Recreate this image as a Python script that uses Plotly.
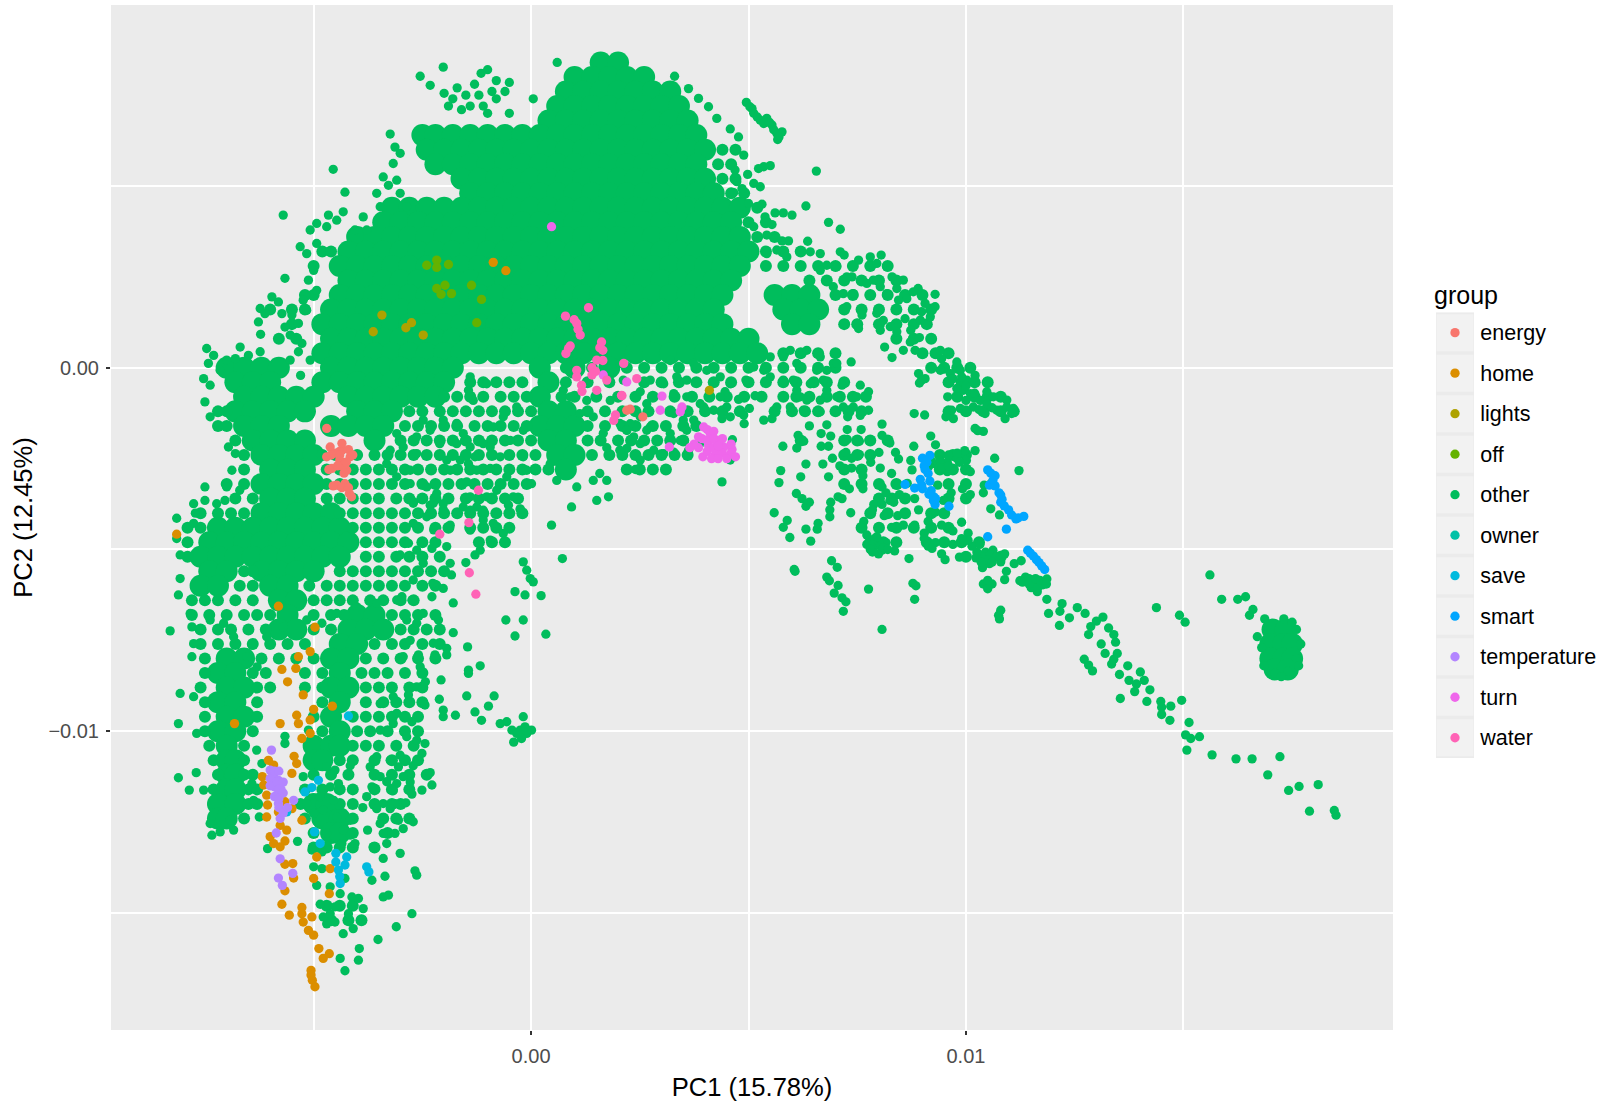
import plotly.graph_objects as go

UNIT = 1e-4
groups = ["energy", "home", "lights", "off", "other", "owner", "save", "smart", "temperature", "turn", "water"]
colors = ["#F8766D", "#DB8E00", "#AEA200", "#64B200", "#00BD5C", "#00C1A7", "#00BADE", "#00A6FF", "#B385FF", "#EF67EB", "#FF63B6"]

# Densely overplotted cloud of "other": row value of PC2, then the PC1 values read along that row
other_dense_y = [84, 80, 76, 72, 68, 64, 60, 56, 52, 48, 44, 40, 36, 32, 28, 24, 20, 16, 12, 8, 4, 0, -4, -8, -12, -16, -20, -24, -28, -32, -36, -40, -44, -48, -52, -56, -60, -64, -68, -72, -76, -80, -84, -88, -92, -96, -100, -104, -108, -112, -116, -120, -124, -128]
other_dense_x = [
 [16, 20],
 [10, 14, 18, 22, 26],
 [8, 12, 16, 20, 24, 28, 32],
 [6, 10, 14, 18, 22, 26, 30, 34],
 [4, 8, 12, 16, 20, 24, 28, 32, 36],
 [-25, -22, -18, -14, -10, -6, -2, 2, 6, 10, 14, 18, 22, 26, 30, 34, 38],
 [-24, -20, -16, -12, -8, -4, 0, 4, 8, 12, 16, 20, 24, 28, 32, 36, 40],
 [-22, -18, -14, -10, -6, -2, 2, 6, 10, 14, 18, 22, 26, 30, 34, 38],
 [-16, -12, -8, -4, 0, 4, 8, 12, 16, 20, 24, 28, 32, 36, 40],
 [-14, -10, -6, -2, 2, 6, 10, 14, 18, 22, 26, 30, 34, 38, 42],
 [-32, -28, -24, -20, -16, -12, -8, -4, 0, 4, 8, 12, 16, 20, 24, 28, 32, 36, 40, 44, 48],
 [-34, -30, -26, -22, -18, -14, -10, -6, -2, 2, 6, 10, 14, 18, 22, 26, 30, 34, 38, 42, 46],
 [-40, -36, -32, -28, -24, -20, -16, -12, -8, -4, 0, 4, 8, 12, 16, 20, 24, 28, 32, 36, 40, 44, 48],
 [-42, -38, -34, -30, -26, -22, -18, -14, -10, -6, -2, 2, 6, 10, 14, 18, 22, 26, 30, 34, 38, 42, 46, 50],
 [-44, -40, -36, -32, -28, -24, -20, -16, -12, -8, -4, 0, 4, 8, 12, 16, 20, 24, 28, 32, 36, 40, 44, 48],
 [-42, -38, -34, -30, -26, -22, -18, -14, -10, -6, -2, 2, 6, 10, 14, 18, 22, 26, 30, 34, 38, 42, 46],
 [-44, -40, -36, -32, -28, -24, -20, -16, -12, -8, -4, 0, 4, 8, 12, 16, 20, 24, 28, 32, 36, 40, 44, 56, 60, 64],
 [-46, -42, -38, -34, -30, -26, -22, -18, -14, -10, -6, -2, 2, 6, 10, 14, 18, 22, 26, 30, 34, 38, 42, 58, 62, 66],
 [-48, -44, -40, -36, -32, -28, -24, -20, -16, -12, -8, -4, 0, 4, 8, 12, 16, 20, 24, 28, 32, 36, 40, 44, 60, 64],
 [-46, -42, -38, -34, -30, -26, -22, -18, -14, -10, -6, -2, 2, 6, 10, 14, 18, 22, 26, 30, 34, 38, 42, 46, 50],
 [-48, -44, -40, -36, -32, -28, -24, -20, -16, -12, -8, -4, 0, 4, 8, 12, 16, 20, 24, 28, 32, 36, 40, 44, 48, 52],
 [-70, -66, -62, -58, -46, -42, -38, -34, -30, -26, -22, -18, 2, 10, 18],
 [-68, -64, -60, -48, -44, -40, -36, -32, -28, -24, -20, 4],
 [-66, -62, -58, -54, -50, -42, -38, -34, -30, -26, -22, 2],
 [-68, -64, -60, -56, -52, -40, -36, -32, 4, 8],
 [-66, -62, -58, -46, -42, -38, -34, 2, 6, 10],
 [-64, -60, -56, -52, -36, 4, 8],
 [-62, -58, -54, -50, 6, 10],
 [-60, -56, -52, 8],
 [-62, -58, -54, -50],
 [-60, -56, -52],
 [-62, -58, -54, -50, -46],
 [-72, -68, -64, -60, -56, -52, -48, -44],
 [-74, -70, -66, -62, -58, -54, -50, -46, -42],
 [-76, -72, -68, -64, -60, -56, -52, -48, -44],
 [-74, -70, -62, -58, -54, -50],
 [-76, -72, -60, -56],
 [-58, -54],
 [-56, -40, -36],
 [-58, -54, -42, -38, -34],
 [-44, -40],
 [-70, -66, -46, -42],
 [-72, -68, -44],
 [-70, -66, -46, -42],
 [-72, -68, -44],
 [-70, -66, -46],
 [-72, -68, -44],
 [-70, -50, -46, -44],
 [-70, -68, -50, -48],
 [-70, -68],
 [-70, -68],
 [-72, -68, -50, -47],
 [-72, -70, -48, -44],
 [-46, -44],
]
# The solid patch at the far right of the plot, same treatment
other_patch = [(170.5,-72),(173.5,-72),(170,-76),(173,-76),(175,-76),(170,-80),(173,-80),(175,-80),(171,-83),(174,-83)]

# Half-filled parts of the "other" cloud: row value of PC2, then PC1 values along that row
other_mid_y = [-4, -8, -12, -16, -20, -24, -28, -32, -36, -40, -44, -48, -52, -56, -60, -64, -68, -72, -76, -80, -84, -88, -92, -96, -100, -104, -108, -112, -116, -120, -124, -128, -132, -148, -152,
               0, -4, -8, -12, -16, -20, -24, -28, 4, 0, -4, -8, -12, 28, 24, 20, 16, 12, 8, 4, 0, -4, -8, -12, -28, -32, -36, -40, -44, -48, -52, -24, -20,
               60, 56, 52, 48, 44, 40, 36, 32, 28, 32, 28, 20, 16, 12, 8, -12, -16, -20, -24, -28, -32, -36]
other_mid_x = [
 [-14, -11, -8, -5, -2],
 [-20, -17, -14, -11, -7, -4, -1],
 [-28, -25, -21, -18, -15, -12, -9, -6, -3, 0],
 [-29, -26, -23, -20, -17, -13, -10, -7, -4, -1],
 [-30, -27, -24, -21, -18, -15, -12, -9, -6, -3, 0],
 [-48, -45, -40, -36, -33, -30, -27, -24, -21, -18, -15, -12, -9, -5, -2, 1],
 [-47, -44, -41, -38, -35, -32, -29, -26, -23, -20, -17, -14, -11, -8, -5, -2, 1, 4],
 [-47, -44, -41, -38, -35, -32, -29, -25, -22, -19, -16, -13, -10, -7, -4, -1],
 [-47, -44, -41, -38, -35, -31, -28, -25, -22, -19, -15, -12, -9, -6, -3],
 [-76, -72, -69, -66, -44, -41, -38, -35, -32, -29, -26, -23, -20, -17, -14, -11, -8, -5, -2],
 [-79, -76, -41, -38, -35, -32, -29, -26, -22, -19, -14, -11, -8, -5],
 [-79, -38, -35, -32, -29, -25, -22, -12, -9, -6],
 [-79, -38, -35, -31, -28, -25, -21],
 [-66, -64, -44, -41, -38, -35, -32, -29, -26, -23, -20],
 [-67, -64, -51, -47, -44, -41, -38, -35, -32, -29, -25, -22],
 [-78, -75, -72, -68, -64, -50, -47, -44, -41, -37, -34, -30, -27],
 [-78, -74, -70, -66, -63, -60, -50, -46, -43, -32, -29, -26, -22],
 [-76, -72, -69, -65, -61, -50, -46, -30, -27, -24, -21],
 [-76, -72, -68, -64, -60, -56, -52, -36, -32, -29, -25, -21],
 [-75, -62, -58, -54, -50, -38, -34, -30, -26, -22],
 [-75, -64, -61, -52, -48, -39, -36, -33, -29, -25],
 [-76, -63, -60, -52, -48, -38, -35, -32, -28, -25],
 [-75, -63, -48, -38, -34, -31, -28, -25],
 [-75, -63, -50, -41, -38, -35, -32, -29, -26],
 [-75, -64, -48, -40, -37, -33, -29, -26],
 [-74, -66, -41, -38, -35, -31, -27],
 [-73, -66, -44, -41, -36, -32, -29, -26],
 [-72, -66, -64, -50, -46, -42, -36, -32, -28, -24],
 [-73, -65, -63, -52, -48, -44, -41, -36, -32, -28],
 [-65, -63, -53, -44, -41, -36, -32, -30],
 [-66, -52, -41, -34, -31, -28],
 [-50, -41, -33],
 [-50, -47, -44, -41, -36],
 [-47, -44, -41],
 [-46, -42, -39],
 [8, 14, 22, 26, 30, 34, 38, 42, 46, 50, 54],
 [8, 13, 18, 26, 30, 34, 38, 42, 46, 50, 54],
 [7, 10, 15, 20, 24, 28, 33, 37, 41, 45, 49, 53],
 [13, 17, 21, 24, 27, 32, 36, 40, 44, 48],
 [13, 17, 21, 24, 28, 31, 35, 38],
 [13, 16, 20, 23, 26, 29, 32, 35],
 [14, 18, 21, 24, 27, 30, 33, 36],
 [22, 25, 28, 31],
 [58, 62, 66, 70],
 [58, 62, 66, 70],
 [58, 61, 65, 68, 72],
 [58, 61, 64, 68, 71, 74, 77],
 [56, 60, 63, 66, 70, 73, 76],
 [66, 70, 74, 78, 82],
 [64, 68, 72, 76, 80, 84],
 [70, 74, 78, 82, 86, 90],
 [72, 76, 80, 84, 88, 92],
 [72, 75, 80, 84, 88, 91],
 [84, 88, 92],
 [90, 93, 96],
 [92, 95, 98, 101],
 [96, 99, 102, 105],
 [98, 102, 105, 108],
 [96, 100, 104, 108, 111],
 [72, 76, 94, 97, 100],
 [72, 76, 80, 84, 96, 100],
 [80, 83, 86, 96, 100],
 [78, 82, 86, 92, 95],
 [76, 80, 84, 88, 92, 96],
 [78, 81, 84, 91, 95, 99, 103],
 [100, 104, 108],
 [72, 75, 78, 94, 97, 100],
 [62, 72, 75, 78, 82],
 [44, 47],
 [43, 46],
 [44, 47],
 [46, 49],
 [52],
 [50, 54],
 [52, 56],
 [54, 58, 62],
 [54, 58, 62],
 [-48, -46],
 [-50],
 [-50, -52],
 [-60, -55, -52],
 [-55],
 [-58, -54],
 [-72, -70],
 [-72, -70],
 [-68],
 [-66],
 [-66],
 [-70, -66],
 [-68, -64],
]

# Separately visible "other" points
other_pts = [
 (-45.5,54.6),(-42.8,48.3),(-57,42),(-56.6,24.6),(-32.4,64.3),(-31.3,60.7),(-25.5,80.2),(-20.2,82.7),(-23.2,77.7),
 (-20,75.5),(-17,77),(-13,78),(-10,82),(-11.5,81),(-8,79),(-5,78.5),(-8,74),(-16,71),(-14,72),(-11,72),(0.5,74),(6,84),(-18,74),(-15,75),(-12,75),(-9,76),(-6,76),(-19,72),(-10,70),(-5,70),
 (-34,52.5),(-32.8,50.2),(-35.5,48),(-31.7,56.2),(-30.1,59),(-30.9,51.6),(-30.1,48),(-28.6,44.3),(-38.6,41.5),(-43.2,42.9),(-46.6,42),(-49.3,39.7),(-50.8,37.9),(-47,38.8),(-44.7,40.6),(-40.5,37.9),(-37.8,37.9),(-34.7,44.3),
 (-53.1,33.3),(-49.3,34.2),(-51.6,31.4),(-50,26.8),(-51.2,24.1),(-49.3,21.3),(-52.4,18.6),(-51.6,15.8),(-59.6,19.5),(-58.1,18.1),(-62.3,16.3),(-61.2,14.9),(-62.7,12.6),(-57.3,14.9),(-55,14.5),(-56.6,11.2),(-53.5,12.2),(-55.4,9),(-62.2,9.2),(-52.7,6.7),(-53.5,4.4),(-55.4,2.1),(-50.8,2.1),(-53,-2.1),
 (-66.9,5.7),(-65,3.4),(-62.3,4.4),(-74.6,5.3),(-73,3.4),(-74.2,1.2),(-70,2.1),(-68,2.5),(-75.3,-3),(-73.8,-4.8),(-75,-9.4),(-73.8,-13.5),(-71.5,-0.7),(-69.6,-21.8),(-68,-23.6),(-68.8,-28.2),(-75,-32.8),(-70,-32.8),(-67,-33.7),(-77.6,-37.4),(-75,-36.5),(-72.3,-37.4),(-70.4,-36.5),
 (-14,-2.5),(-14.4,-6.2),(-13.3,-9),(-10.2,-4.4),(-11,-8),(-6.4,-13.5),(-8.7,-16.3),(-3.3,-10.8),(-1.8,-17.2),(-4.8,-20),(-1.8,-24.5),(-7.1,-24.5),(-11,-20.9),(-9.4,-21.8),(-14,-21.8),(-17.1,-20.9),(-16.3,-25.4),(-12.9,-24.5),(-14.4,-26.4),(-19.4,-25.4),(-18.6,-28.2),(-21,-20.9),(-20.2,-14.4),(-17.1,-15.3),(-15.6,-18.1),(-23.2,-17.2),(-24.8,-14.4),(-26.3,-19),(-26.3,-23.6),(-27.8,-28.2),(-29.4,-21.8),(-32.4,-22.7),(-30.9,-18.1),(-33.2,-26.4),(-30.9,-30),(-27.8,-31.9),(-24,-32.8),(-21.7,-34.6),(-20.2,-37.4),(-14.8,-31.4),(-12.5,-28.2),(-9.4,-27.7),(-5.6,-30),(-7.9,-33.7),(-4.1,-35.5),(-10.2,-35.5),(-14,-35.5),(-15.6,-38.3),(-12.5,-38.3),(-2.5,-38.8),(-1,-28.2),(0.1,-31.9),(4.4,-26.4),(5.9,-31),(10.5,-32.8),(15.8,-29.1),(14.3,-31),(17.4,-31),(15.1,-36.5),(17.8,-35.5),(9.3,-38.3),(-27,-36.9),(-23.2,-37.8),
 (-81.5,-41.4),(-81.5,-47),(-80.7,-51.5),(-80.7,-58),(-81.1,-62.5),(-78.4,-67.6),(-78,-71.3),(-83,-72.4),(-77.6,-75.9),(-78,-79.5),(-80.7,-89.6),(-77.6,-90.5),(-81.1,-97.9),(-76.9,-100.6),(-81.1,-112.8),(-77,-111.4),(-78.6,-116.2),(-75.3,-116.2),(-73.4,-128.6),(-71.5,-127.7),(-68.4,-127.2),(-73.8,-125.4),(-69.2,-124.5),(-77.2,-40),(-77.6,-42.8),
 (-64.2,-76.3),(-73.8,-69.4),(-70.7,-70.3),(-68.4,-74),(-65.4,-79.5),(-63,-82.3),(-60.8,-74),(-57,-71.3),(-51.6,-69.4),(-48.1,-70.3),(-44.7,-67.6),(-40.1,-65.8),(-35.5,-64.8),(-30.9,-63.9),(-27.4,-63.9),(-24.8,-67.6),(-26.3,-70.3),(-28.6,-69.4),(-27.8,-75),(-29.4,-79.5),(-25.5,-82.3),(-25.9,-79),(-26.3,-87.8),(-24.4,-92.8),(-28.2,-90),(-27.4,-97.4),(-31.7,-90.5),(-34.7,-92.4),(-30.9,-95.1),(-34.7,-99.7),(-31.7,-97.9),(-28.6,-101.5),(-26.3,-102.5),(-24.4,-103.4),(-25.1,-106.1),(-30.1,-106.6),(-32.4,-108),(-35.5,-107),(-37,-109.8),(-27.1,-109.5),(-30.5,-109.8),(-29.4,-112.5),(-34.7,-112.5),(-33.2,-113.9),(-41.6,-109.5),(-27.8,-114),(-23.2,-111.4),(-22.8,-114.8),(-25.1,-116.2),(-27.4,-117.3),(-30.9,-114.4),(-31.7,-116.4),(-36.6,-115.3),(-37.8,-118),(-34,-119.9),(-31.3,-119.9),(-35.5,-121.3),(-32.4,-121.3),(-28.8,-119.7),(-38.7,-121),(-27.1,-124.9),(-30.5,-124.5),(-34.7,-125.4),(-29.4,-126.8),(-31.3,-128.1),(-34,-128.1),(-37.6,-127.2),(-33.2,-130.9),(-36.3,-131.8),(-30.1,-133.6),(-34,-135),(-33.6,-139.9),(-26.7,-138.4),(-26.3,-139.6),(-34,-145.6),(-32.8,-145.1),(-27.4,-150.2),(-31,-153.8),(-35.2,-157.3),(-39.5,-159.8),(-39.7,-163),(-43.9,-162.5),(-42.8,-165.9),(-43.2,-155.7),(-40.9,-154.3),(-38.9,-152),(-38.6,-148.8),(-41.2,-145.6),(-39.7,-146),(-42,-150.2),(-45.1,-148.3),(-48.5,-147.6),(-47.8,-151.1),(-45.1,-152.5),(-46.2,-150.2),(-47,-153),(-43.9,-144.7),(-46.2,-142.8),(-49.3,-142.4),(-42.8,-140.5),(-36.6,-141),(-50,-137.3),(-48.1,-137.8),(-50.4,-132.7),(-48.1,-133.2),(-53.7,-130.3),(-60.6,-132.3),(-62.5,-123.6),(-51.2,-99.7),(-56.6,-101.4),(-56.6,-103.4),(-63.1,-105.2),(-61.9,-108.9),(-64.2,-114.4),(-63.8,-119),(-41.6,-128.6),(-40.5,-130.9),(-43.5,-130.9),(-43.2,-127.2),(-41.6,-124.5),(-47,-128.1),(-44.7,-123.6),(-47.8,-121.7),(-50,-122.6),(-45.4,-119),(-48.5,-118),(-51.6,-119.9),(-46.2,-115.3),(-44.3,-114.4),(-45.1,-110.7),(-47,-109.8),(-52.4,-112.5),
 (-21.3,-69.4),(-17.9,-72.9),(-17.9,-64.7),(-22.8,-63),(-20.2,-60.7),(-22.6,-59.3),(-18.3,-57),(-15,-53.6),(-18.6,-53.8),(-22.8,-49.7),(-19.4,-49.2),(-18.6,-43.3),(-22.4,-44.6),(-24,-41),(-27.1,-42.8),(-30.1,-51.5),(-28.2,-48.3),(-24.8,-53.8),(-26.3,-50.2),(-27.1,-58.4),(-29.7,-63),(-22.5,-75.8),(-19.4,-77.2),(-22.1,-79),(-19.4,-79),(-14.6,-76.8),(-11.7,-82),(-14.4,-84.1),(-14.4,-83.2),(-24.3,-86.4),(-20.7,-85.9),(-21.1,-91.2),(-14.8,-90.3),(-8.5,-90.3),(-9.8,-93.1),(-12.9,-94.7),(-17.4,-95.6),(-20.2,-96),(-11.4,-97),(-20.2,-94.2),
 (4.7,-43.3),(7.2,-52.5),(-1.8,-53.4),(-1,-55.7),(-0.2,-58),(0.5,-58.9),(-3.7,-61.6),(-1.4,-62.5),(2.3,-62.7),(-5.8,-69.4),(-1.8,-69.4),(-3.7,-73.8),(3.4,-73.3),
 (-7.1,-97.9),(-5.6,-97.4),(-4.4,-99.7),(-4,-103),(-1.8,-96),(-2.5,-99.7),(-1,-100.6),(0.1,-99.7),(-2.2,-102),(-3.3,-100.6),(-1.4,-98.8),
 (-11,-39.2),(-14,-39.2),(-7.9,-40),(-8.7,-42.8),(-6.4,-45.6),(-11,-41.9),(-14,-44.7),(-9.4,-47.4),(-11.7,-50.2),(-12.9,-51.5),(-2.5,-39),(-5.2,-37.8),(-22.5,-37.3),(-20.2,-39),(-27.1,-37.3),
 (49.5,73),(51.2,70),(52.7,68.1),(54.2,68.6),(55.4,66.8),(56.5,64.5),(57.7,64.9),(56.7,62.8),(50.8,71.3),(50.3,71.8),(52,69),(53.5,67.2),(54.8,67.5),(55.8,65.5),(57,63.5),
 (36.2,76.8),(38.5,74.1),(40.8,71.8),(42.7,68.6),(33,80.2),
 (45.8,65.7),(47.7,63.5),(48.9,58.5),(46.9,54.4),(49.8,53.2),(52.3,54.8),(55,55.6),(53.5,55.3),(65.6,54.1),(47.3,51.2),(51.2,50.7),(52.7,49.8),(46.6,48.2),(48.5,49.3),(53.1,45),(50,45.2),(63.2,44.5),(56.1,42.6),(58,42.6),(60,42),(53.8,41.5),(55.4,39.4),(68.4,40),(71.1,38.1),(51.2,38.8),(54.2,36.5),(57.7,34.9),(59.2,34.9),(63.6,34.8),(64.2,31.9),(66.5,31.4),(71.1,31.9),(72,31),(54.2,31.4),(56.5,32.4),(58.8,30.5),(75.3,29.6),(78,30.5),(80.5,31),(79.5,28.7),(81.8,27.8),(83,25),(85.6,24.1),(89,21.8),(87.9,20.9),(92.9,20.2),(78.7,24.1),(77.2,23.2),(80.3,22.3),(81.8,20.4),(84.1,21.8),(86.4,19),(84.5,18.6),(70.3,27.8),(68,28.2),(72.6,25),(73.8,25),(66.5,26.8),(69.5,22.3),(71.8,20.4),(74.1,20.4),(76.1,14.5),(72.6,16.8),(72.2,12.2),(74.9,12.2),(75.3,10.8),(79.5,15),(81,13),(80.3,10.3),(82.6,11.3),(84.1,9.9),(86,13.5),(89.5,13.1),(90.6,17.7),(92.9,16.8),(91.8,14),(89.8,15.4),(87.3,10.3),
 (87.2,7.1),(89.3,8.3),(92.1,7.8),(85.6,4.8),(88.3,4.8),(90.2,3.9),(94.1,4.8),(96,3.9),(94.4,2.5),(81.3,5.7),(83,2.8),(97.9,1.6),(94.1,-0.7),(96.4,-1.6),(98.7,-0.7),(100.2,-3.4),(102.1,-2.1),(99.4,-6.2),(97.9,-5.7),(101,-7.1),(104.8,-6.6),(106.3,-8),(103.3,-9),(104.8,-9.9),(109.4,-8.9),(110.9,-11.2),(109.4,-10.8),(110.5,-12.6),(109,-14),(107.1,-11.7),(101.7,-10.8),(98.7,-11.2),(96.7,-11.7),(100.2,-12.1),(104.4,-12.6),(97.1,-14),(95.4,-13.5),(95.8,-8),(89.1,-1.6),(89.8,-3.4),(90.6,-3),(89.3,-4.2),(88.1,-12.6),(90.5,-13),(102.1,-16.7),(104,-17.5),(100,-9),(102,-7),(98,-8),(106,-11),(103,-11.5),(100,-5),(97,-3),(99,-2.5),
 (58,3),(59.6,4.8),(61.1,1.2),(63.4,4.8),(66.5,3),(69.5,1.2),(68,-0.7),(65.7,-0.7),(67.2,-3.4),(64.2,-4.4),(61.1,-6.2),(58,-3.4),(58,-8),(60.3,-3.4),(59.6,-10.8),(61.9,-8),(63.4,-8.9),(62.6,-11.7),(68,-6.2),(70.3,-8),(71.8,-10.8),(74.1,-10.8),(75.7,-4.8),(77.6,-6.6),(74.9,-8),(77.6,-11.7),(75.7,-13.1),(72.8,-13.5),(66.5,-8.9),(66.5,-12.1),(71.5,-4.8),(73.6,1.6),(70.3,1.2),
 (55,-2.5),(56.5,-10.8),(55.4,-14),(53.5,-14.4),(51.5,-7.7),(50.2,-11.2),(48.9,-13),(49,-15.4),(47.7,-8.7),(44.6,-6.6),(43.5,-8),(45,-10.8),(45.8,-13.5),(43.9,-14),(49.4,-3.4),(53.5,-0.7),(55,3),(51.2,0.2),
 (32,2),(37.4,1.2),(40.4,-0.7),(43.5,-2.5),(45.8,-4.4),(35.8,-3.4),(33.5,-2.5),(30.5,-4.4),(27.4,-3.4),(25.1,-6.6),(35.8,-8),(38.9,-9.9),(42,-11.7),(32.8,-7.1),(26.6,-9.9),(25.1,-13.5),(22.8,-15.4),(27.4,-16.3),(32,-18.1),(34.3,-20),(36.2,-22.7),(28.2,-22.7),(30.5,-23.6),(32.8,-23.2),(22,-22.2),(25.1,-20.9),(25.1,-25.4),(24,-28),(38.7,-21.1),(46.3,-19.8),(45.8,-25.4),(43.9,-31.4),(26.6,-17.2),(23.6,-19),(35,-14.4),(32.8,-12.6),(37.4,-14.4),(39.7,-10.8),(35.8,-17.2),(22,-17.2),
 (7.4,-6.2),(12.8,-9),(18.2,-9),(14.3,-13.5),(10.5,1.2),(20.4,1.2),(21.2,-3.4),(20.4,-15.3),(16.6,-18),(20.4,-22.7),(9,-8),(11.2,-12.6),(17.4,-22),(22,-17.2),
 (57.9,-21.6),(61.1,-22.1),(61.4,-18.6),(62.7,-20.2),(63.2,-26.5),(57.4,-28.3),(57,-31.6),(62,-30),(66.7,-18.1),(68.9,-18.8),(68,-15.7),(66.7,-21.6),(68.4,-21.6),(64,-16),(72.7,-17),(75.9,-17),(72.7,-19.7),(75.5,-20.2),(77.7,-19.9),(80.7,-15.5),(80.7,-18.6),(82.5,-20.7),(83.8,-23.3),(84.5,-25.1),(88,-21.6),(80,-23.3),
 (73.7,-24.9),(75.5,-23.9),(72.4,-23.3),(71,-27),(73.7,-27.6),(67.1,-26.5),(69.3,-24.9),(68.4,-30),(76.3,-29.7),(78.1,-26),(80.3,-27.6),(82.9,-29.1),(87.3,-25.5),(87.6,-28.1),(73.2,-33.3),(76.3,-33.3),
 (61,-34.6),(62.3,-36),(64,-37),(63.2,-38.1),(70.6,-35.5),(71.5,-36),(68.9,-37),(68.7,-39.1),(73.5,-39.9),(68.7,-41),(55.9,-39.9),(58.9,-42),(58,-43.9),(59.5,-46.7),(63.2,-44.4),(64.3,-47.7),(66,-42.8),(65.8,-44.4),
 (80.7,-32.8),(81.6,-34.4),(78.8,-37.6),(80.7,-37.6),(82.5,-36.5),(81.2,-40.7),(78.5,-39.1),(84.3,-32.3),(84.7,-34.9),(83.4,-37),(84.3,-40.7),(76.5,-42.3),(75.9,-43.9),(79.9,-43.9),(82.9,-43.9),(77.2,-46),(77.2,-48.6),(79,-49.1),(81.6,-48.1),(79.9,-51.2),(78.5,-50.7),(83.6,-50.4),(80.7,-50.2),(86.9,-52.5),(85.6,-43.3),(88.2,-43.3),(90.4,-45.5),(91.3,-49.1),(94.4,-51.2),(95.2,-52.8),(98.5,-52.1),(93,-48.1),(97,-44.9),(97,-48.6),(99,-42.5),(100.5,-45.5),(101.4,-49.1),(103.2,-48.6),(104.5,-50.7),(102.3,-52.3),(106.2,-50.2),(105.4,-53.9),(103.8,-55),(108.9,-51.2),(108,-53.4),(111.1,-53.9),(112.7,-53.1),(109.3,-56),(108.9,-58.3),(104.9,-59.7),(113.7,-57.6),(115.5,-59.1),(117.7,-59.7),(112.4,-58.6),(118.6,-58.1),(116.4,-61.6),(118.6,-63.7),(119,-67.6),(121.5,-70.9),(122.1,-64.9),(121.6,-67),(123.8,-68.8),(125.6,-66),(127.4,-67.6),(131.5,-68.6),(130,-69.7),(128.7,-71.2),(128.2,-73.4),(132.8,-71.6),(134,-73.4),(134.4,-75.5),(131.1,-76),(132,-78.6),(134.8,-78.6),(134,-80.2),(133.5,-81.5),(127.2,-80.2),(128.2,-81.8),(129.1,-83.4),(137.2,-82),(135.3,-84.4),(137.5,-86),(140.1,-83.7),(139.2,-87),(138.8,-89.1),(141,-86),(142.3,-88.6),(141.6,-91.8),(135.5,-91),(144.8,-91.8),(147.1,-93.1),(145,-93.4),(145,-95.4),(146.9,-97),(149.6,-91.5),(151.3,-97.6),(150.5,-101),(151.7,-102),(153.7,-101.5),(150.8,-105.2),(156.6,-106.5),(162.1,-107.6),(165.8,-107.6),(172.2,-107),(169.4,-112),(174.2,-116.3),(176.6,-115.2),(181,-114.7),(179,-122),(184.7,-121.8),(185.1,-123.1),
 (156.1,-57),(158.8,-63.7),(162.5,-63.7),(164.3,-63),(143.8,-66),(149.1,-68.1),(150.4,-70),(166,-66.5),(165.2,-68.1),
 (168.7,-69.1),(173.1,-69.1),(176,-72),(167,-74),(168,-77),(177,-76),(176,-80),(168.5,-82),(171,-84),(174,-83.5),(176.5,-82),(172.5,-85),(175,-70),
 (107.5,-68.1),(107.7,-69.1),(108,-66.7),(60.5,-55.5),(60.7,-56),(69.1,-53.1),(70.4,-54.9),(68,-57.6),(68.6,-58.6),(70.6,-59.9),(69.7,-62),(71.5,-63.3),(72.4,-64.4),(71.8,-67),(77.6,-60.9),(80.7,-72),(87.8,-59.3),(88.5,-60),(88.2,-63.7),
 (93,-26.5),(95.7,-26),(97.9,-24.9),(99.7,-22.8),(100.1,-25.5),(95.7,-28.6),(97,-28.1),(102.1,-22.8),(106.6,-24.9),(112.2,-28.3),(101,-28.6),(91.9,-18.8),(93,-21.2),(102.7,-17.3),(86.5,-31.8),(93.5,-32.3),(96.6,-34.4),(99.2,-33.3),(101,-34.9),(94.8,-36.5),(93,-39.7),(91.3,-42.3),(89.1,-39.1),(88.2,-36),(104.2,-32.3),(104,-34.4),(105.7,-38.8),(107.7,-40.5),(105.8,-31.8),(94.4,-43.3),(90.4,-47),(92.2,-49.7),
 (94,-25.5),(96,-24),(98,-23.5),(94.5,-27.5),(96,-27),(98.5,-26),(92,-25.6),(91.5,-27),(104,-59.5),(106,-59.5),(105,-58.5),(105,-60.8),(113,-59),(114.5,-58),(115,-60.5),(116.5,-60.5),(117,-58.5),(118.5,-59.5),(114.5,-59.5),(116,-58),(104,-52),(105.5,-51.5),(105,-52.8),(103.5,-53.5),(107,-52),(106,-53.5),(102.5,-50.7),(100.5,-47.5),(99,-47),(78,-48),(80,-48),(79,-47),(81,-49.5),(78,-50),(82,-50),(79.5,-46.5),
]

energy_pts = [(-46.2,-21.8),(-43.5,-22.7),(-41.6,-24.5),(-44,-25.4),(-45.8,-27.7),(-42.4,-28.2),(-44.7,-32.3),(-42.8,-31.9),(-41.8,-34.6),(-47,-16.7),(22,-11.7),(22.8,-11.4),(25.7,-13.5),(-44,-23),(-43.5,-27),(-47,-24.5),(-45,-23.5),(-43.5,-20.8),(-42,-22.5),(-41,-24),(-42.5,-26),(-44.5,-27),(-46.5,-28),(-43,-29),(-46,-24),(-44,-24),(-45.5,-32.5),(-43.5,-33),(-42,-33),(-41.3,-35.5)]
home_pts = [(-8.7,29),(-5.8,26.7),(-81.5,-45.8),(-58.1,-65.6),(-49.7,-71.4),(-50.8,-78.1),(-53.5,-79.5),(-57.3,-83),(-54.1,-82.7),(-56,-86.4),(-52.4,-90),(-45.7,-93.1),(-50,-94),(-53.9,-95.6),(-50.8,-96.9),(-53.5,-97.9),(-57.7,-97.9),(-68.2,-97.9),(-52.7,-102),(-50.8,-100.6),(-54.5,-106.9),(-53.9,-108.9),(-55,-111.6),(-60.4,-108),(-59.2,-109.3),(-61.8,-112.5),(-61.5,-114.8),(-60.8,-117.6),(-60.6,-120.3),(-60.8,-123.6),(-58.1,-122.2),(-56.6,-119.4),(-55,-121.3),(-52.7,-124.5),(-57.7,-125.9),(-56.2,-127.2),(-60,-129),(-59.2,-130.9),(-56.6,-130.2),(-57.7,-131.8),(-56.6,-136.6),(-54.8,-136.4),(-54.6,-140.4),(-56.6,-143.9),(-57.3,-147.6),(-52.7,-148.5),(-52.4,-152.5),(-55.6,-150.6),(-50.4,-151.1),(-51.2,-154.8),(-50,-156.1),(-48.8,-159.8),(-47.8,-162.5),(-46.4,-161.2),(-50.6,-165.8),(-50.3,-168.5),(-49.7,-170.3),(-50,-140.5),(-46.2,-137.8),(-49.3,-134.6),(-46.4,-144.7),(-52.7,-150.2),(-50.6,-167.1)]
lights_pts = [(-34.3,14.5),(-27.5,12.4),(-28.8,11),(-36.3,9.9),(-24.8,9),(41,-6.2)]
off_pts = [(-21.7,29.6),(-24,28.2),(-21.7,27.6),(-19,28.4),(-19.8,22.7),(-21.7,21.8),(-20.7,20.2),(-18.3,20.4),(-13.7,22.7),(-11.4,18.8),(-12.5,12.4)]
owner_pts = [(-2.9,53.5)]
save_pts = [(-48.9,-113.5),(-50.4,-115.5),(-52,-116.7),(-42,-95.8),(-49.8,-127.7),(-48.5,-130.9),(-44.9,-133.6),(-42.4,-134.6),(-42.8,-136.8),(-44.3,-138.2),(-37.8,-137.3),(-37.3,-138.7),(-43.9,-141.9),(-56.2,-122.2),(-44.9,-136),(-44,-140)]
smart_pts = [(90,-24.9),(91.7,-24.1),(90.4,-27),(91.3,-29.1),(89.5,-30.7),(91.7,-31.2),(90,-33.3),(86,-32.1),(88.2,-33.1),(92.6,-35.5),(92.9,-37.6),(105,-28.1),(106.7,-29.7),(105.4,-32.3),(107.6,-34.4),(108,-37),(109.8,-39.1),(111.5,-41.6),(113.3,-40.9),(109.3,-44.4),(105,-46.5),(96.1,-38.1),(114.2,-50.2),(115.5,-51.8),(116.8,-53.6),(118.1,-55.5),(105.7,-29),(106.2,-31),(106.7,-32.5),(108,-35),(108.3,-36.2),(108.8,-38),(110.5,-40.5),(112,-41.3),(91,-26),(90.6,-28),(92.5,-36.5),(93,-36),(92,-33.8),(91.5,-34.8),(114.8,-51),(116.2,-52.8),(117.4,-54.5),(89.8,-32.3)]
temperature_pts = [(-59.7,-105.2),(-59.2,-112.5),(-60,-110.7),(-58.9,-115.3),(-58.1,-113.5),(-58.5,-117.6),(-58.1,-119.9),(-57.7,-124),(-58.6,-128),(-57.7,-135.1),(-54.8,-139.1),(-58.1,-140.4),(-57.2,-142.4),(-54.6,-119),(-59.5,-115),(-57.5,-116),(-60,-113),(-59,-111),(-58,-111),(-60,-115),(-58.5,-114),(-58,-116),(-59,-118),(-58,-118.5),(-57,-114),(-57,-117),(-58,-121),(-57,-122.5),(-56,-121)]
turn_pts = [(39.7,-16.3),(41.2,-18.1),(39.3,-19.5),(42.7,-20),(44.3,-21.8),(46.2,-22.5),(42.3,-24),(39.5,-24.5),(31.8,-21.8),(30.1,-7.8),(29.7,-11.7),(34.7,-10.8),(34.3,-12.1),(42.7,-22.7),(40.8,-21.3),(22,-3.9),(16.6,-2),(4.7,38.8),(38.5,-19),(38.5,-22),(40.5,-17),(40.5,-20),(40.5,-23),(42,-17.5),(42,-19.5),(42,-22),(44,-19.5),(44,-23.5),(46,-21),(46,-23.5),(37.5,-21),(41.5,-25),(43,-25),(45,-25),(47,-24.5),(43,-21.5),(36.5,-22)]
water_pts = [(13.2,16.5),(7.9,14.2),(10.5,12.2),(8.6,5.3),(16.2,7.1),(10.5,-0.7),(15.1,2.1),(17.4,-3.4),(11.6,-4.8),(15.1,-6.2),(14,-2),(20.8,-7.6),(19.4,-13),(21.3,1.2),(24.3,-3),(20.9,-7.7),(-21,-45.8),(-14.3,-42.6),(-14.2,-56.4),(-12.7,-62.3),(-12.1,-33.7),(9,6),(8,3.9),(10.8,10.6),(11.3,9),(9.9,13.2),(16.5,4.8),(15.8,5.5),(14,0),(14.8,-1),(16.5,2),(10.5,-2.5),(11.7,-6.5),(19,-14.5)]

W, H = 1610, 1102
POINT = 9.3
MID = 12
DENSE = 22
TEXT = "Liberation Sans, Arial, sans-serif"

def scatter(pts, name, color, size=POINT):
    return go.Scatter(x=[p[0] * UNIT for p in pts], y=[p[1] * UNIT for p in pts], mode="markers", name=name,
                      showlegend=False, hoverinfo="name+x+y", cliponaxis=True,
                      marker=dict(color=color, size=size, line=dict(width=0)))

fig = go.Figure()
dense = [(x, y) for y, row in zip(other_dense_y, other_dense_x) for x in row] + other_patch
mid = [(x, y) for y, row in zip(other_mid_y, other_mid_x) for x in row]
col = dict(zip(groups, colors))
fig.add_trace(scatter(owner_pts, "owner", col["owner"]))
fig.add_trace(scatter(dense, "other", col["other"], DENSE))
fig.add_trace(scatter(mid, "other", col["other"], MID))
fig.add_trace(scatter(other_pts, "other", col["other"]))
for name, pts in [("energy", energy_pts), ("home", home_pts), ("lights", lights_pts), ("off", off_pts), ("save", save_pts),
                  ("smart", smart_pts), ("temperature", temperature_pts), ("turn", turn_pts), ("water", water_pts)]:
    fig.add_trace(scatter(pts, name, col[name]))

# Legend keys as a small category axis, so each swatch comes from the group list
key_x = [0] * len(groups)
fig.add_trace(go.Scatter(x=key_x, y=groups, xaxis="x2", yaxis="y2", mode="markers", showlegend=False, hoverinfo="skip", cliponaxis=False,
                         marker=dict(symbol="square", size=37, color="#F2F2F2", line=dict(width=0))))
fig.add_trace(go.Scatter(x=key_x, y=groups, xaxis="x2", yaxis="y2", mode="markers", showlegend=False, hoverinfo="skip", cliponaxis=False,
                         marker=dict(size=POINT, color=colors, line=dict(width=0))))

fig.update_layout(
    width=W, height=H, margin=dict(l=0, r=0, t=0, b=0), paper_bgcolor="white", plot_bgcolor="#EBEBEB",
    font=dict(family=TEXT, color="#000000"),
    xaxis=dict(domain=[111 / W, 1393 / W], range=[-0.00966, 0.01982], tick0=0, dtick=0.01, tickformat=".2f", zeroline=False,
               showgrid=True, gridcolor="white", gridwidth=2, ticks="outside", ticklen=4, tickwidth=1.5, tickcolor="#333333",
               tickfont=dict(size=20, color="#4D4D4D"), showline=False, anchor="y", ticklabelstandoff=4,
               minor=dict(dtick=0.005, tick0=0, showgrid=True, gridcolor="white", gridwidth=1.5, ticks=""),
               title=dict(text="PC1 (15.78%)", font=dict(size=25.6, color="#000000"), standoff=12)),
    yaxis=dict(domain=[1 - 1030 / H, 1 - 5 / H], range=[-0.01822, 0.00998], tick0=0, dtick=0.01, tickformat=".2f", zeroline=False,
               showgrid=True, gridcolor="white", gridwidth=2, ticks="outside", ticklen=4, tickwidth=1.5, tickcolor="#333333",
               tickfont=dict(size=20, color="#4D4D4D"), showline=False, anchor="x", ticklabelstandoff=3,
               minor=dict(dtick=0.005, tick0=0, showgrid=True, gridcolor="white", gridwidth=1.5, ticks=""),
               title=dict(text="PC2 (12.45%)", font=dict(size=25.6, color="#000000"), standoff=8)),
    xaxis2=dict(domain=[1436 / W, 1474 / W], range=[-1, 1], visible=False, anchor="y2", fixedrange=True),
    yaxis2=dict(domain=[1 - 758 / H, 1 - 312.4 / H], type="category", categoryorder="array", categoryarray=groups, range=[10.5, -0.5],
                side="right", anchor="x2", showgrid=False, zeroline=False, showline=False, ticks="outside", ticklen=1,
                tickcolor="rgba(0,0,0,0)", tickfont=dict(size=21.5, color="#000000"), fixedrange=True),
    annotations=[dict(text="group", xref="paper", yref="paper", x=1432 / W, y=1 - 295 / H, xanchor="left", yanchor="middle",
                      showarrow=False, font=dict(size=25, color="#000000"))],
)
fig.write_html("out.html", config=dict(displayModeBar=False), post_script="document.body.style.margin='0';document.body.style.overflow='hidden';")
